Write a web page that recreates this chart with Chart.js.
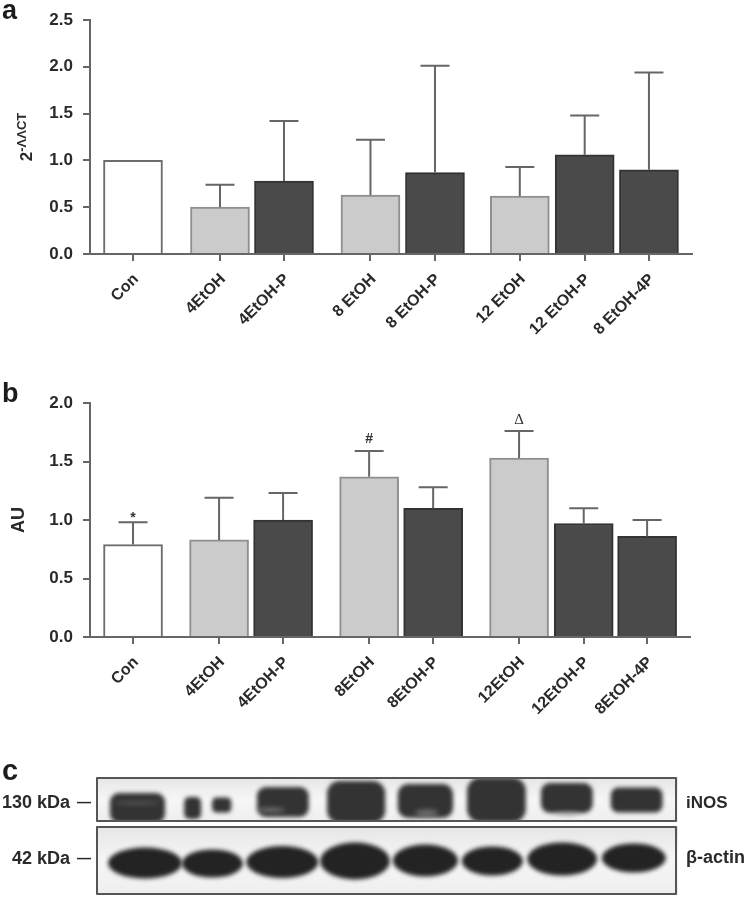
<!DOCTYPE html>
<html><head><meta charset="utf-8">
<script src="https://cdn.jsdelivr.net/npm/chart.js@4"></script>
<style>
html,body{margin:0;padding:0;background:#fff}
#page{position:relative;width:748px;height:899px;overflow:hidden;filter:blur(.55px);font-family:"Liberation Sans",Arial,sans-serif;font-weight:bold;color:#2a2a2a}
canvas{position:absolute;display:block}
.t{position:absolute;white-space:nowrap;line-height:1}
.letter{color:#1c1c1c}
.rot{transform:translate(-50%,-50%) rotate(-90deg)}
.box{position:absolute;box-sizing:border-box;border:2px solid #555;border-radius:1px}
sup{font-size:13px;vertical-align:baseline;position:relative;top:-6px}
</style></head><body>
<div id="page">
<canvas id="ca" style="left:0;top:0"></canvas>
<canvas id="cb" style="left:0;top:380px"></canvas>
<canvas id="cc" style="left:96px;top:777px"></canvas>
<div class="box" style="left:96px;top:777px;width:581px;height:45px"></div>
<div class="box" style="left:96px;top:826px;width:581px;height:69px"></div>
<div class="t letter" style="left:2px;top:-3px;font-size:27px">a</div>
<div class="t letter" style="left:2px;top:380px;font-size:27px">b</div>
<div class="t letter" style="left:2px;top:756px;font-size:29px">c</div>
<div class="t rot" style="left:26px;top:137px;font-size:17px">2<sup>-ΛΛCT</sup></div>
<div class="t rot" style="left:18px;top:520px;font-size:18px">AU</div>
<div class="t" style="left:2px;top:793px;font-size:18px">130 kDa</div>
<div class="t" style="left:77px;top:795px;font-size:14px">—</div>
<div class="t" style="left:12px;top:849px;font-size:18px">42 kDa</div>
<div class="t" style="left:77px;top:851px;font-size:14px">—</div>
<div class="t" style="left:686px;top:794px;font-size:17px">iNOS</div>
<div class="t" style="left:686px;top:848px;font-size:18px">β-actin</div>
</div>
<script>
// Panel a
const categoriesA = ["Con","4EtOH","4EtOH-P","8 EtOH","8 EtOH-P","12 EtOH","12 EtOH-P","8 EtOH-4P"];
const meansA  = [1.0,0.5,0.78,0.63,0.87,0.62,1.06,0.9];
const uppersA = [null,0.74,1.42,1.22,2.01,0.93,1.48,1.94];
// Panel b
const categoriesB = ["Con","4EtOH","4EtOH-P","8EtOH","8EtOH-P","12EtOH","12EtOH-P","8EtOH-4P"];
const meansB  = [0.79,0.83,1.0,1.37,1.1,1.53,0.97,0.86];
const uppersB = [0.98,1.19,1.23,1.59,1.28,1.76,1.1,1.0];
const marksB  = ["*","","","#","","Δ","",""];
// Bars are grouped, so the groups sit on a numeric slot axis
const slotsA = [0,1.354,2.35,3.696,4.70,6.02,7.03,8.03];
const slotsB = [0,1.344,2.344,3.688,4.688,6.03,7.04,8.03];
// Panel c: blot bands, in membrane units (x 0-100, y 0-118)
const inosX = [7.13,16.6,21.6,32.1,44.7,56.6,68.8,80.9,92.9];
const inosY = [31,31,28,25,25,24,23,21,23];
const inosW = [9.45,2.9,3.3,8.9,10,9.5,10.1,8.9,8.9];
const inosH = [30,22,15,30,42,34,45,30,25];
const inosGaps = [[7,26,8,2],[30,33,5,5],[56.8,36,4,7],[81,37,4,4]];
const actinX = [8.42,20,32,44.5,56.6,68.1,80.1,92.4];
const actinY = [86,86.5,85,84,83.5,84,82,81];
const actinW = [12.7,10.5,12.4,12,11.2,10.5,12,11];
const actinH = [31,28,32,37,32,29,33,29];

const INK="#666", FONT='"Liberation Sans",Arial,sans-serif';
const fill={w:"#ffffff",l:"#cbcbcb",d:"#4a4a4a"};
const edge={w:"#6d6d6d",l:"#8f8f8f",d:"#333333"};
const kinds=["w","l","d","l","d","l","d","d"];

const errorBars={id:"errorBars",afterDatasetsDraw(c,_,o){
  const {ctx,scales:{x,y}}=c;
  ctx.save();ctx.strokeStyle=INK;ctx.lineWidth=2;
  o.slots.forEach((s,i)=>{
    const px=x.getPixelForValue(s);
    if(o.uppers[i]!=null){
      const t=y.getPixelForValue(o.uppers[i]),b=y.getPixelForValue(o.means[i]);
      ctx.beginPath();ctx.moveTo(px,b);ctx.lineTo(px,t);
      ctx.moveTo(px-14.5,t);ctx.lineTo(px+14.5,t);ctx.stroke();
    }
    if(o.marks&&o.marks[i]){
      const m=o.marks[i], tri=m==="Δ";
      ctx.fillStyle="#333";ctx.textAlign="center";ctx.textBaseline="alphabetic";
      ctx.font=tri?'15px "Liberation Serif",serif':'bold 14px '+FONT;
      ctx.fillText(m,px,y.getPixelForValue(o.uppers[i])-(m==="*"?0:(tri?7:8)));
    }
  });
  ctx.restore();
}};

function bar(id,w,h,padTop,padRight,axisH,slots,cats,means,uppers,marks,xMin,xMax,yMax){
  const el=document.getElementById(id);el.width=w;el.height=h;el.style.width=w+"px";el.style.height=h+"px";
  new Chart(el,{type:"bar",plugins:[errorBars],
    data:{datasets:[{data:slots.map((s,i)=>({x:s,y:means[i]})),
      backgroundColor:kinds.map(k=>fill[k]),borderColor:kinds.map(k=>edge[k]),
      borderWidth:2,barThickness:59}]},
    options:{responsive:false,animation:false,
      layout:{padding:{top:padTop,right:padRight,left:0,bottom:0}},
      plugins:{legend:{display:false},tooltip:{enabled:false},errorBars:{slots,means,uppers,marks}},
      scales:{
        x:{type:"linear",offset:false,min:xMin,max:xMax,
          afterBuildTicks:s=>{s.ticks=slots.map(v=>({value:v}));},
          afterFit:s=>{s.height=axisH;s.paddingLeft=0;s.paddingRight=0;},
          grid:{offset:false,drawOnChartArea:false,color:INK,lineWidth:2,tickLength:7},
          border:{color:INK,width:2},
          ticks:{autoSkip:false,minRotation:45,maxRotation:45,padding:9,labelOffset:3,color:"#2a2a2a",
            font:{family:FONT,weight:"bold",size:16},
            callback:(v,i)=>cats[i]}},
        y:{min:0,max:yMax,
          afterFit:s=>{s.width=90;s.paddingTop=0;s.paddingBottom=0;},
          grid:{drawOnChartArea:false,color:INK,lineWidth:2,tickLength:7},
          border:{color:INK,width:2},
          ticks:{stepSize:0.5,padding:10,color:"#2a2a2a",
            font:{family:FONT,weight:"bold",size:17},
            callback:v=>v.toFixed(1)}}
      }}});
}
bar("ca",748,340,20,56,86,slotsA,categoriesA,meansA,uppersA,null,-0.669,8.70,2.5);
bar("cb",748,350,23,58,93,slotsB,categoriesB,meansB,uppersB,marksB,-0.672,8.70,2.0);

// Blot
const blot={id:"blot",afterDatasetsDraw(c){
  const {ctx,scales:{x,y}}=c;
  const ux=Math.abs(x.getPixelForValue(1)-x.getPixelForValue(0)), uy=Math.abs(y.getPixelForValue(0)-y.getPixelForValue(1));
  const panel=(t,b,fn)=>{ctx.save();ctx.beginPath();
    const top=y.getPixelForValue(t),bot=y.getPixelForValue(b);
    ctx.rect(x.left,top,x.right-x.left,bot-top);ctx.clip();
    const g=ctx.createLinearGradient(0,top,0,bot);g.addColorStop(0,"#e6e6e6");g.addColorStop(.5,"#f6f6f6");g.addColorStop(1,"#eeeeee");
    ctx.fillStyle=g;ctx.fillRect(x.left,top,x.right-x.left,bot-top);fn();ctx.restore();};
  panel(0,45,()=>{
    ctx.filter="blur(2px)";ctx.fillStyle="#333333";
    inosX.forEach((v,i)=>{ctx.beginPath();
      const w=inosW[i]*ux,h=inosH[i]*uy;
      ctx.roundRect(x.getPixelForValue(v)-w/2,y.getPixelForValue(inosY[i])-h/2,w,h,Math.min(w,h)*.3);ctx.fill();});
    ctx.filter="blur(2.5px)";ctx.fillStyle="rgba(150,150,150,.6)";
    inosGaps.forEach(g=>{ctx.beginPath();
      ctx.ellipse(x.getPixelForValue(g[0]),y.getPixelForValue(g[1]),g[2]*ux/2,g[3]*uy/2,0,0,7);ctx.fill();});
  });
  panel(49,118,()=>{
    ctx.filter="blur(2px)";ctx.fillStyle="#232323";
    actinX.forEach((v,i)=>{ctx.beginPath();
      ctx.ellipse(x.getPixelForValue(v),y.getPixelForValue(actinY[i]),actinW[i]*ux/2,actinH[i]*uy/2,0,0,7);ctx.fill();});
  });
  ctx.filter="none";
}};
const cc=document.getElementById("cc");cc.width=582;cc.height=118;cc.style.width="582px";cc.style.height="118px";
new Chart(cc,{type:"scatter",plugins:[blot],
  data:{datasets:[{data:inosX.map((v,i)=>({x:v,y:inosY[i]})),pointRadius:0},
                  {data:actinX.map((v,i)=>({x:v,y:actinY[i]})),pointRadius:0}]},
  options:{responsive:false,animation:false,layout:{padding:0},
    plugins:{legend:{display:false},tooltip:{enabled:false}},
    scales:{x:{type:"linear",display:false,min:0,max:100},y:{type:"linear",display:false,reverse:true,min:0,max:118}}}});
</script>
</body></html>
